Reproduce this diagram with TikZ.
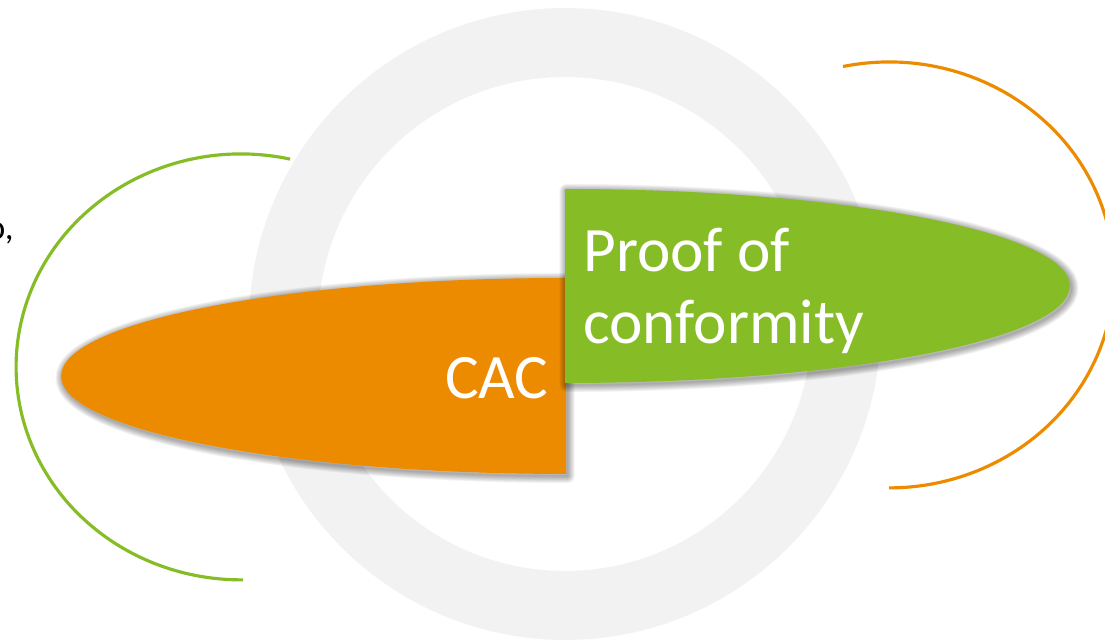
\documentclass[tikz,border=0pt]{standalone}
\usepackage{fontspec}
\setmainfont{Carlito}
\definecolor{cacorange}{HTML}{EC8B00}
\definecolor{proofgreen}{HTML}{86BC25}
\definecolor{ringgray}{HTML}{F2F2F2}
\newcommand{\caclens}{(566,363) arc[start angle=90, end angle=270, x radius=10.1cm, y radius=1.96cm] -- cycle}
\newcommand{\prooflens}{(565,258) arc[start angle=-90, end angle=90, x radius=10.1cm, y radius=1.94cm] -- cycle}
\begin{document}
\begin{tikzpicture}[x=0.02cm, y=0.02cm,
    soft/.style={black, opacity=0.045, line join=round},
    bracket/.style={line width=1.8pt},
    label/.style={text=white, font=\fontsize{36}{41}\selectfont, inner sep=0pt},
    fragment/.style={text=black, font=\fontsize{20}{24}\selectfont, inner sep=0pt}]
    \useasboundingbox (0,0) rectangle (1105,641);
    \begin{scope}
        \clip (0,0) rectangle (1105,641);
        % ring behind
        \fill[ringgray, even odd rule] (565,317) circle (6.32cm) (565,317) circle (4.94cm);
        % side arcs
        \draw[bracket, proofgreen] (290.1,481.9) arc[start angle=77.4, end angle=270.5, x radius=4.5cm, y radius=4.26cm];
        \draw[bracket, cacorange] (843,574.5) arc[start angle=101.8, end angle=-90, x radius=4.5cm, y radius=4.26cm];
        % orange lens with its shadow
        \foreach \w in {1,...,9}
            \draw[soft, line width=\w*0.9pt, shift={(1.5,-2)}] \caclens;
        \fill[cacorange] \caclens;
        % green lens with its shadow
        \foreach \w in {1,...,9}
            \draw[soft, line width=\w*0.9pt, shift={(1.5,-2)}] \prooflens;
        \fill[proofgreen] \prooflens;
        % cut-off text at the left edge
        \node[fragment, anchor=base east] (frag1) at (14,401) {o,};
        \node[fragment, anchor=base east] (frag2) at (2,276) {.};
        \node[fragment, anchor=base east] (frag3) at (2,217) {.};
    \end{scope}
    \node[label, anchor=base east] (cac) at (549,242) {CAC};
    \node[label, anchor=base west, align=left] (proof) at (583,297) {Proof of\\conformity};
\end{tikzpicture}
\end{document}
